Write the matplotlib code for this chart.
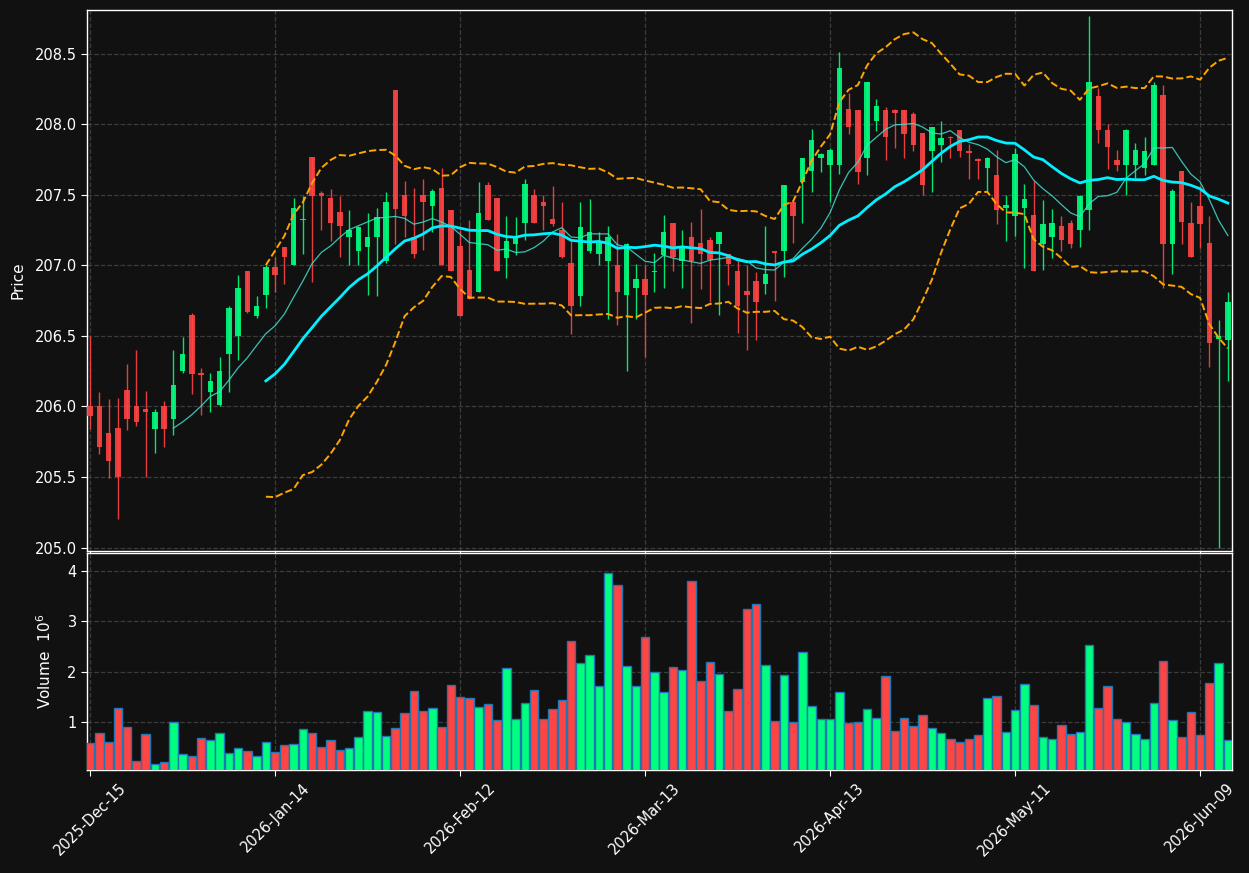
import matplotlib
matplotlib.use('Agg')
import matplotlib.pyplot as plt
import numpy as np
import pandas as pd

# exchange holidays inside the window, so the bar index follows trading days
holidays = ['2025-12-25', '2026-01-01', '2026-01-19', '2026-02-16', '2026-04-03', '2026-05-25']
start_date = '2025-12-15'

opens = [
    206.00, 206.00, 205.81, 205.85, 206.12, 206.00, 205.98, 205.84, 206.00, 205.91,
    206.25, 206.65, 206.24, 206.10, 206.01, 206.37, 206.50, 206.96, 206.64, 206.79,
    206.99, 207.13, 207.00, 207.32, 207.77, 207.51, 207.48, 207.38, 207.20, 207.10,
    207.13, 207.20, 207.03, 208.24, 207.50, 207.20, 207.50, 207.42, 207.55, 207.39,
    207.14, 206.97, 206.81, 207.57, 207.48, 207.05, 207.15, 207.30, 207.50, 207.45,
    207.33, 207.25, 207.02, 206.78, 207.10, 207.08, 207.03, 207.00, 206.79, 206.84,
    206.90, 206.95, 207.07, 207.30, 207.03, 207.20, 207.16, 207.18, 207.15, 207.08,
    206.96, 206.82, 206.89, 206.87, 207.10, 207.10, 207.45, 207.59, 207.67, 207.76,
    207.71, 207.71, 208.11, 208.10, 207.76, 208.02, 208.10, 208.10, 208.10, 208.07,
    207.94, 207.81, 207.85, 207.91, 207.96, 207.81, 207.75, 207.69, 207.64, 207.41,
    207.35, 207.41, 207.36, 207.15, 207.20, 207.28, 207.30, 207.25, 207.39, 208.20,
    207.96, 207.75, 207.71, 207.71, 207.69, 207.71, 208.21, 207.15, 207.67, 207.30,
    207.42, 207.16, 206.48, 206.47,
]
highs = [
    206.50, 206.10, 206.05, 206.06, 206.30, 206.40, 206.11, 205.98, 206.04, 206.40,
    206.49, 206.66, 206.27, 206.24, 206.35, 206.71, 206.93, 206.96, 206.78, 207.00,
    207.06, 207.13, 207.48, 207.49, 207.77, 207.53, 207.54, 207.49, 207.39, 207.28,
    207.37, 207.41, 207.52, 208.24, 207.60, 207.55, 207.61, 207.54, 207.69, 207.39,
    207.25, 207.32, 207.59, 207.59, 207.48, 207.35, 207.34, 207.61, 207.54, 207.50,
    207.56, 207.45, 207.18, 207.45, 207.47, 207.24, 207.28, 207.22, 207.16, 207.01,
    207.00, 207.09, 207.36, 207.30, 207.25, 207.31, 207.40, 207.20, 207.24, 207.08,
    207.03, 207.00, 206.95, 207.28, 207.10, 207.57, 207.45, 207.76, 207.97, 207.80,
    207.83, 208.51, 208.22, 208.10, 208.30, 208.18, 208.12, 208.11, 208.10, 208.09,
    207.94, 207.98, 208.02, 207.92, 207.96, 207.86, 207.76, 207.77, 207.82, 207.50,
    207.83, 207.58, 207.60, 207.46, 207.40, 207.35, 207.32, 207.50, 208.77, 208.26,
    208.00, 207.82, 207.97, 207.87, 207.91, 208.30, 208.28, 207.54, 207.67, 207.45,
    207.56, 207.35, 206.61, 206.81,
]
lows = [
    205.84, 205.66, 205.49, 205.20, 205.83, 205.86, 205.50, 205.67, 205.71, 205.80,
    206.24, 206.09, 205.94, 205.96, 206.00, 206.10, 206.33, 206.66, 206.63, 206.70,
    206.81, 206.87, 207.00, 207.08, 206.88, 207.25, 207.17, 207.06, 207.00, 207.00,
    206.79, 206.78, 207.02, 207.15, 207.20, 207.05, 207.11, 207.24, 207.00, 206.96,
    206.64, 206.76, 206.81, 207.32, 206.96, 206.91, 207.07, 207.18, 207.30, 207.25,
    207.28, 207.05, 206.51, 206.71, 207.09, 207.00, 206.62, 206.58, 206.25, 206.62,
    206.35, 206.81, 206.84, 206.96, 206.84, 206.59, 206.83, 206.74, 206.65, 206.86,
    206.52, 206.40, 206.47, 206.80, 206.75, 206.92, 207.16, 207.30, 207.52, 207.66,
    207.45, 207.65, 207.93, 207.58, 207.64, 207.95, 207.75, 207.83, 207.76, 207.81,
    207.50, 207.52, 207.73, 207.76, 207.77, 207.61, 207.61, 207.52, 207.29, 207.17,
    207.21, 206.98, 206.96, 206.97, 207.05, 207.10, 207.12, 207.13, 207.25, 207.87,
    207.68, 207.67, 207.50, 207.62, 207.64, 207.71, 206.84, 206.94, 207.15, 207.06,
    207.12, 206.28, 205.00, 206.18,
]
closes = [
    205.93, 205.71, 205.61, 205.50, 205.91, 205.89, 205.96, 205.96, 205.84, 206.15,
    206.37, 206.23, 206.22, 206.18, 206.25, 206.70, 206.84, 206.67, 206.71, 206.99,
    206.93, 207.06, 207.41, 207.33, 207.49, 207.49, 207.30, 207.28, 207.25, 207.27,
    207.20, 207.34, 207.45, 207.40, 207.35, 207.08, 207.45, 207.53, 207.00, 206.96,
    206.64, 206.76, 207.37, 207.32, 206.96, 207.17, 207.20, 207.58, 207.30, 207.42,
    207.29, 207.06, 206.71, 207.27, 207.24, 207.16, 207.20, 206.81, 207.15, 206.90,
    206.79, 206.96, 207.24, 207.06, 207.12, 207.03, 207.08, 207.04, 207.24, 207.01,
    206.71, 206.79, 206.74, 206.94, 207.09, 207.57, 207.35, 207.76, 207.89, 207.79,
    207.82, 208.40, 207.98, 207.66, 208.30, 208.13, 207.91, 208.08, 207.93, 207.85,
    207.57, 207.98, 207.90, 207.90, 207.81, 207.80, 207.74, 207.76, 207.39, 207.43,
    207.79, 207.47, 206.96, 207.29, 207.30, 207.18, 207.15, 207.49, 208.30, 207.96,
    207.84, 207.71, 207.96, 207.82, 207.81, 208.28, 207.15, 207.53, 207.31, 207.06,
    207.29, 206.45, 206.50, 206.74,
]
# volume in millions of shares
volumes = [
    0.58, 0.78, 0.60, 1.28, 0.90, 0.22, 0.76, 0.16, 0.20, 1.00,
    0.36, 0.32, 0.68, 0.64, 0.78, 0.38, 0.48, 0.42, 0.32, 0.60,
    0.40, 0.54, 0.56, 0.86, 0.78, 0.50, 0.64, 0.44, 0.48, 0.70,
    1.22, 1.20, 0.72, 0.88, 1.18, 1.61, 1.22, 1.28, 0.90, 1.73,
    1.49, 1.47, 1.30, 1.36, 1.04, 2.07, 1.06, 1.38, 1.63, 1.06,
    1.26, 1.43, 2.61, 2.17, 2.33, 1.71, 3.96, 3.72, 2.11, 1.71,
    2.69, 1.99, 1.59, 2.09, 2.03, 3.80, 1.81, 2.19, 1.95, 1.22,
    1.65, 3.24, 3.34, 2.13, 1.02, 1.93, 1.00, 2.39, 1.32, 1.06,
    1.06, 1.59, 0.98, 1.00, 1.26, 1.08, 1.91, 0.82, 1.08, 0.92,
    1.14, 0.88, 0.78, 0.66, 0.60, 0.66, 0.74, 1.47, 1.51, 0.80,
    1.24, 1.75, 1.34, 0.70, 0.66, 0.94, 0.76, 0.80, 2.53, 1.28,
    1.71, 1.06, 1.00, 0.76, 0.66, 1.38, 2.21, 1.04, 0.70, 1.20,
    0.74, 1.77, 2.17, 0.64,
]

mav_short = 10
mav_long = 20
bb_window = 20
bb_k = 2

bg = '#111111'
up_col = '#00ff7f'
down_col = '#ff4444'
grid_col = '#3c3c3c'

df = pd.DataFrame({'Open': opens, 'High': highs, 'Low': lows, 'Close': closes, 'Volume': volumes})
df.index = pd.bdate_range(start_date, periods=len(df), freq='C', holidays=holidays)

x = np.arange(len(df))
rising = df['Close'] >= df['Open']
colors = np.where(rising, up_col, down_col)

ma_s = df['Close'].rolling(mav_short).mean()
ma_l = df['Close'].rolling(mav_long).mean()
bb_mid = df['Close'].rolling(bb_window).mean()
bb_std = df['Close'].rolling(bb_window).std(ddof=0)
bb_up = bb_mid + bb_k * bb_std
bb_lo = bb_mid - bb_k * bb_std

fig = plt.figure(figsize=(12.49, 8.73), dpi=100, facecolor=bg)
ax = fig.add_axes([0.0697, 0.3688, 0.9167, 0.6197])
axv = fig.add_axes([0.0697, 0.1180, 0.9167, 0.2486], sharex=ax)

for a in (ax, axv):
    a.set_facecolor(bg)
    for s in a.spines.values():
        s.set_color('white')
        s.set_linewidth(1.0)
    a.tick_params(colors='white', labelsize=10.5, length=4)
    a.grid(True, linestyle='--', color=grid_col, linewidth=0.9)
    a.set_axisbelow(True)

# candles: wicks then bodies
ax.vlines(x, df['Low'], df['High'], colors=colors, linewidth=1.0, alpha=0.9, zorder=2)
body = (df['Close'] - df['Open']).abs().clip(lower=0.012)
bottom = df[['Open', 'Close']].min(axis=1)
ax.bar(x, body, bottom=bottom, width=0.6, color=colors, alpha=0.9, linewidth=0, zorder=3)

ax.plot(x, ma_s, color='#40e0d0', linewidth=0.9, alpha=0.85, zorder=4)
ax.plot(x, ma_l, color='#00f0ff', linewidth=2.0, zorder=4)
ax.plot(x, bb_up, color='orange', linestyle='--', linewidth=1.4, zorder=4)
ax.plot(x, bb_lo, color='orange', linestyle='--', linewidth=1.4, zorder=4)

ax.set_ylim(204.975, 208.81)
ax.set_ylabel('Price', color='white', fontsize=11)
ax.tick_params(axis='x', labelbottom=False)

axv.bar(x, df['Volume'], width=0.9, color=colors, edgecolor='#1f77b4', linewidth=1.0, zorder=3)
axv.set_ylim(0.3 * df['Volume'].min(), 1.1 * df['Volume'].max())
axv.set_ylabel('Volume  $10^{6}$', color='white', fontsize=11)

tick_idx = x[::20]
axv.set_xticks(tick_idx)
axv.set_xticklabels([df.index[i].strftime('%Y-%b-%d') for i in tick_idx], rotation=45, ha='center')
axv.set_xlim(-0.33, len(df) - 0.55)

ax.yaxis.set_label_coords(-0.054, 0.5)
axv.yaxis.set_label_coords(-0.029, 0.5)

fig.savefig('out.png', dpi=100, facecolor=bg)
